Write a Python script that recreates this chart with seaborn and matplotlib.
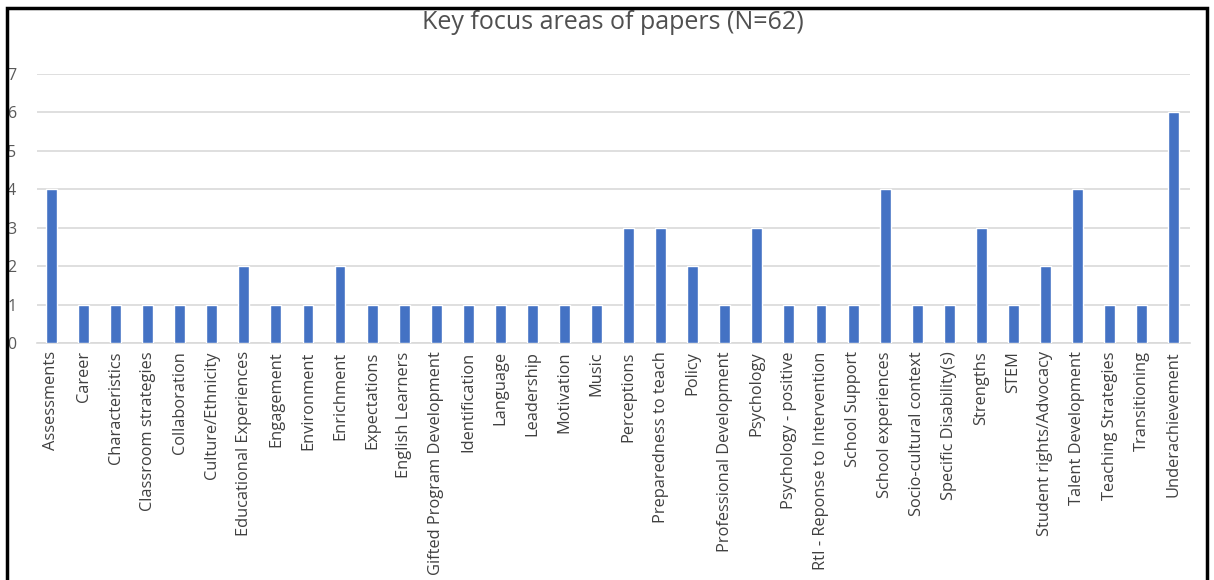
import matplotlib
matplotlib.use("Agg")
import matplotlib.pyplot as plt
import seaborn as sns
import pandas as pd
from matplotlib.patches import Rectangle

categories = ["Assessments", "Career", "Characteristics", "Classroom strategies", "Collaboration",
              "Culture/Ethnicity", "Educational Experiences", "Engagement", "Environment", "Enrichment",
              "Expectations", "English Learners", "Gifted Program Development", "Identification",
              "Language", "Leadership", "Motivation", "Music", "Perceptions", "Preparedness to teach",
              "Policy", "Professional Development", "Psychology", "Psychology - positive",
              "RtI - Reponse to Intervention", "School Support", "School experiences",
              "Socio-cultural context", "Specific Disability(s)", "Strengths", "STEM",
              "Student rights/Advocacy", "Talent Development", "Teaching Strategies",
              "Transitioning", "Underachievement"]
counts = [4, 1, 1, 1, 1, 1, 2, 1, 1, 2, 1, 1, 1, 1, 1, 1, 1, 1, 3, 3, 2, 1, 3, 1, 1, 1, 4,
          1, 1, 3, 1, 2, 4, 1, 1, 6]
yticks = [0, 1, 2, 3, 4, 5, 6, 7]
title = "Key focus areas of papers (N=62)"

sns.set_theme(style="white")
plt.rcParams['font.family'] = ['Open Sans', 'DejaVu Sans']

df = pd.DataFrame({"category": categories, "count": counts})

fig = plt.figure(figsize=(12.14, 5.8), dpi=100)
ax = fig.add_axes([0.0305, 0.4086, 0.9495, 0.4638])

sns.barplot(data=df, x="category", y="count", color="#4472C4", width=0.34,
            saturation=1, ax=ax, zorder=3)

ax.set_ylim(0, 7)
ax.set_xlim(-0.45, len(categories) - 0.5)
ax.set_yticks(yticks)
ax.yaxis.grid(True, color="#d9d9d9", linewidth=1.2, zorder=0)
ax.set_axisbelow(True)
for s in ["top", "right", "left"]:
    ax.spines[s].set_visible(False)
ax.spines["bottom"].set_color("#d9d9d9")
ax.spines["bottom"].set_linewidth(1.2)
ax.set_xlabel("")
ax.set_ylabel("")
ax.tick_params(axis="x", labelrotation=90, labelsize=11.8, labelcolor="#404040", length=0, pad=6)
ax.tick_params(axis="y", labelsize=11.5, labelcolor="#595959", length=0, pad=15)

fig.text(0.505, 0.962, title, ha="center", va="center", fontsize=18, color="#505050")

fig.patches.append(Rectangle((7 / 1214, -0.05), 1200 / 1214, 1.05 - 8 / 580,
                             transform=fig.transFigure, fill=False, edgecolor="black",
                             linewidth=2.5, zorder=10))

fig.savefig("out.png", dpi=100)
